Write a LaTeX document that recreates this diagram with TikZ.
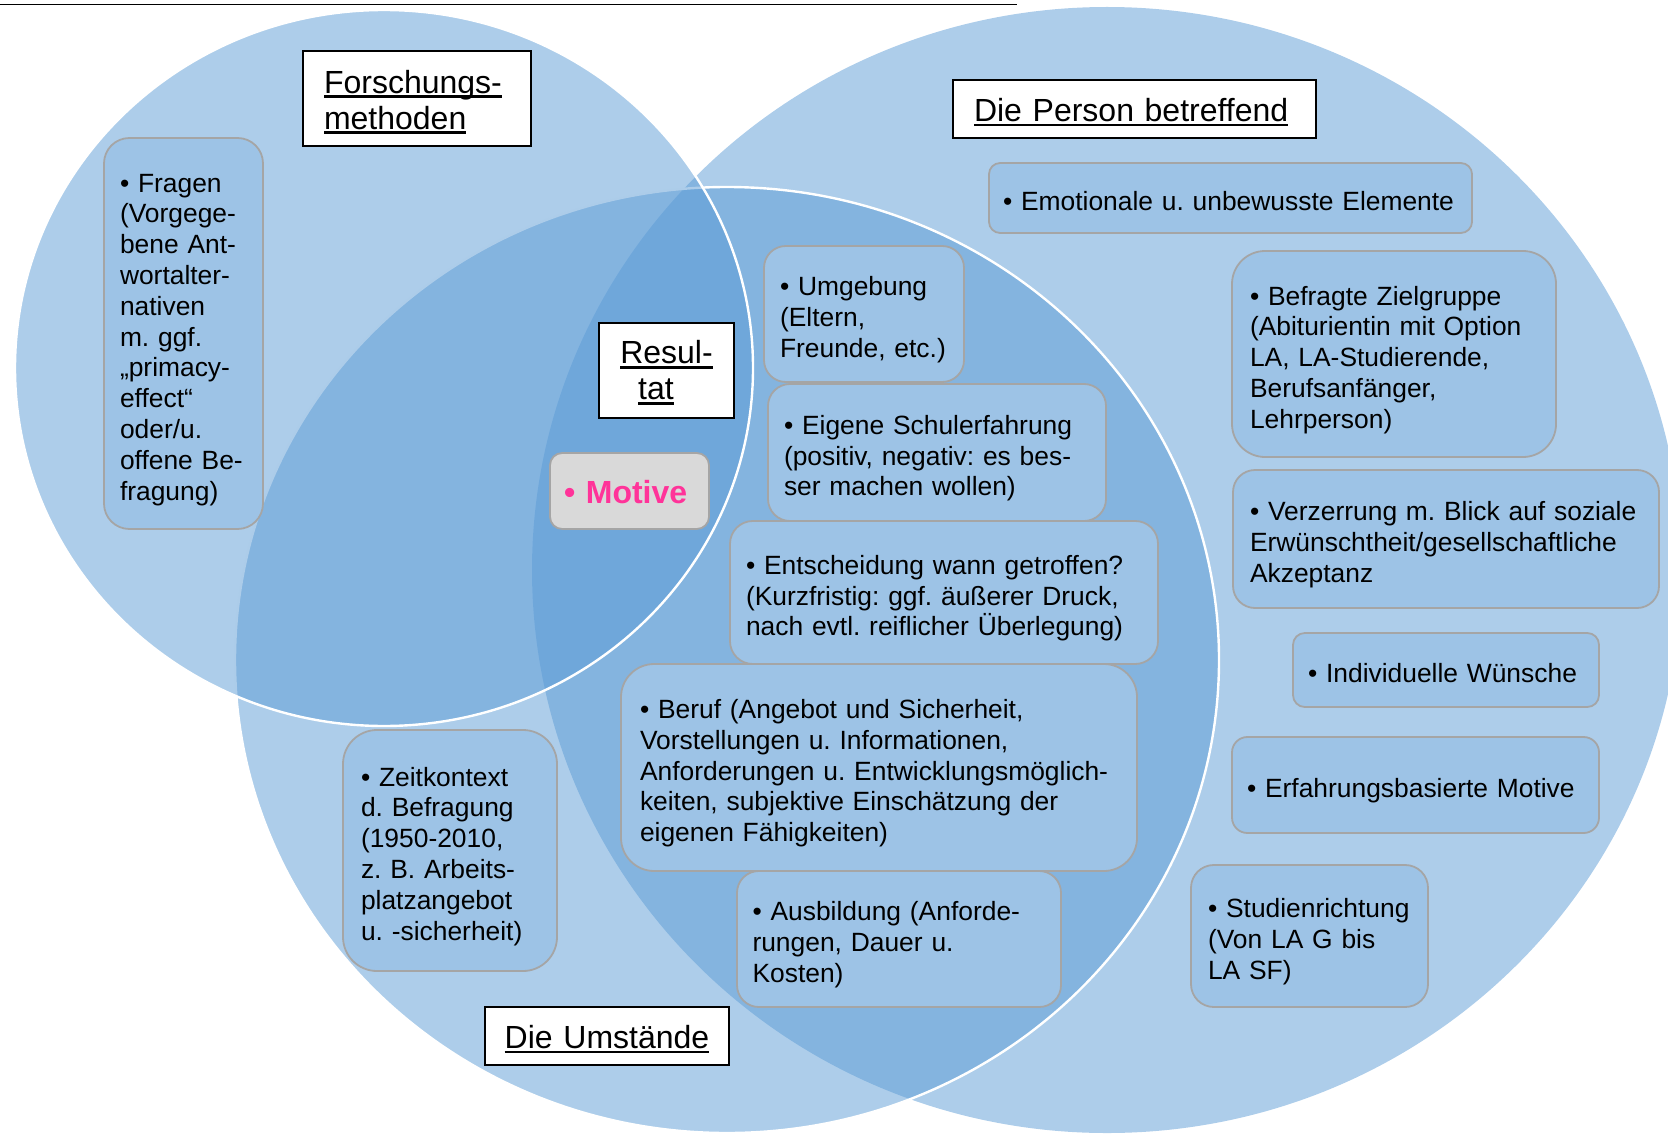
\documentclass[tikz,border=0pt]{standalone}
\usepackage{fontspec}
\setmainfont{Liberation Sans}
\definecolor{vennblue}{HTML}{5B9BD5}
\definecolor{itemblue}{HTML}{9DC3E6}
\definecolor{itemrule}{HTML}{A5A5A5}
\definecolor{motivegray}{HTML}{D9D9D9}
\definecolor{motivepink}{HTML}{FF3399}
% underline at a fixed depth below the baseline, crossing descenders
\newcommand{\ulword}[1]{\leavevmode{\setbox0=\hbox{#1}\rlap{\rule[-2.3pt]{\wd0}{1.2pt}}\box0}}

\begin{document}
\frenchspacing
\begin{tikzpicture}[x=0.5pt,y=-0.5pt,
  set/.style={fill=vennblue, fill opacity=0.5},
  setrim/.style={draw=white, line width=1.2pt},
  dims/.style 2 args={text width=#1, minimum width=#1, minimum height=#2},
  lpad/.style={execute at begin node={\leftskip=#1\relax\rule{0pt}{15.6pt}},
    execute at end node={\rule[-3pt]{0pt}{0pt}}},
  item/.style={draw=itemrule, line width=0.9pt, fill=itemblue,
    inner xsep=0pt, inner ysep=0pt, align=left, text=black,
    font=\fontsize{13.2pt}{15.4pt}\selectfont},
  heading/.style={draw=black, line width=1pt, fill=white,
    inner xsep=0pt, inner ysep=0pt, text=black,
    font=\fontsize{16pt}{18pt}\selectfont},
]
% the three overlapping sets
\begin{scope}
  \clip (0,0) rectangle (1668,1134);
  \path[set] (1107,570) ellipse [x radius=287.5pt, y radius=281.5pt];
  \path[set, setrim] (727,660) ellipse [x radius=246pt, y radius=236.5pt];
  \path[set, setrim] (384,368) ellipse [x radius=184.5pt, y radius=179pt];
\end{scope}
\useasboundingbox (0,0) rectangle (1668,1134);

% separator rule along the top
\draw[line width=0.9pt] (0,4.5) -- (1017,4.5);

% set headings
\node[heading, dims={114pt}{47.5pt}, align=left, lpad=10.5pt] (forschung) at (417,98.5)
  {\ulword{Forschungs-}\\\ulword{methoden}};
\node[heading, dims={181.5pt}{29pt}, align=left, lpad=10.5pt] (person) at (1134.5,109)
  {\ulword{Die Person betreffend}};
\node[heading, dims={67.5pt}{47.5pt}, align=center] (resultat) at (666.5,370.5)
  {\rule{0pt}{13.7pt}\ulword{Resul-}\\\ulword{tat}\hspace*{10.6pt}};
\node[heading, dims={122pt}{29pt}, align=center] (umstaende) at (607,1036)
  {\rule{0pt}{14.8pt}\ulword{Die Umstände}};

% items
\node[item, dims={79.5pt}{195.5pt}, lpad=8pt, rounded corners=12.7pt] (fragen) at (183.5,333.5)
  {• Fragen\\(Vorgege-\\bene Ant-\\wortalter-\\nativen\\m. ggf.\\„primacy-\\effect“\\oder/u.\\offene Be-\\fragung)};
\node[item, dims={241.5pt}{35pt}, lpad=7pt, rounded corners=5.6pt] (emotion) at (1230.5,198)
  {• Emotionale u. unbewusste Elemente};
\node[item, dims={100pt}{68pt}, lpad=8pt, rounded corners=10.9pt] (umgebung) at (864,314)
  {• Umgebung\\(Eltern,\\Freunde, etc.)};
\node[item, dims={162pt}{103pt}, lpad=9pt, rounded corners=16.5pt] (zielgruppe) at (1394,354)
  {• Befragte Zielgruppe\\(Abiturientin mit Option\\LA, LA-Studierende,\\Berufsanfänger,\\Lehrperson)};
\node[item, dims={169pt}{68.5pt}, lpad=8pt, rounded corners=11pt] (schule) at (937,452.5)
  {• Eigene Schulerfahrung\\(positiv, negativ: es bes-\\ser machen wollen)};
\node[item, dims={79.5pt}{38pt}, lpad=7pt, rounded corners=6.1pt, fill=motivegray,
  text=motivepink, font=\fontsize{16pt}{18pt}\selectfont\bfseries] (motive) at (629.5,491)
  {• Motive};
\node[item, dims={213pt}{69pt}, lpad=8.5pt, rounded corners=11pt] (verzerrung) at (1446,539)
  {• Verzerrung m. Blick auf soziale\\Erwünschtheit/gesellschaftliche\\Akzeptanz};
\node[item, dims={214pt}{71.5pt}, lpad=8pt, rounded corners=11.4pt] (entscheidung) at (944,592.5)
  {• Entscheidung wann getroffen?\\(Kurzfristig: ggf. äußerer Druck,\\nach evtl. reiflicher Überlegung)};
\node[item, dims={153pt}{37pt}, lpad=7.5pt, rounded corners=5.9pt] (wuensche) at (1446,670)
  {• Individuelle Wünsche};
\node[item, dims={258pt}{103.5pt}, lpad=9.5pt, rounded corners=16.6pt] (beruf) at (879,767.5)
  {• Beruf (Angebot und Sicherheit,\\Vorstellungen u. Informationen,\\Anforderungen u. Entwicklungsmöglich-\\keiten, subjektive Einschätzung der\\eigenen Fähigkeiten)};
\node[item, dims={107pt}{120.5pt}, lpad=9pt, rounded corners=17pt] (zeit) at (450,850.5)
  {• Zeitkontext\\d. Befragung\\(1950-2010,\\z. B. Arbeits-\\platzangebot\\u. -sicherheit)};
\node[item, dims={183.5pt}{48pt}, lpad=7.5pt, rounded corners=7.7pt] (erfahrung) at (1415.5,785)
  {• Erfahrungsbasierte Motive};
\node[item, dims={162pt}{68pt}, lpad=7.75pt, rounded corners=10.9pt] (ausbildung) at (899,939)
  {• Ausbildung (Anforde-\\rungen, Dauer u.\\Kosten)};
\node[item, dims={118.5pt}{71pt}, lpad=8.5pt, rounded corners=11.4pt] (studien) at (1309.5,936)
  {• Studienrichtung\\(Von LA G bis\\LA SF)};
\end{tikzpicture}
\end{document}
